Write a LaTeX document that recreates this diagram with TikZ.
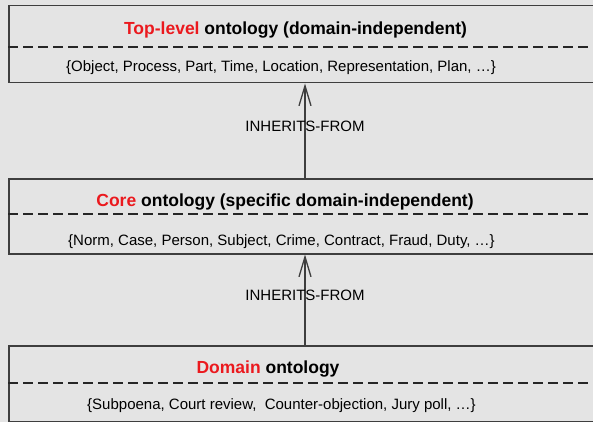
\documentclass[tikz,border=0pt]{standalone}
\usepackage{fontspec}
\setmainfont{Liberation Sans}
\usetikzlibrary{arrows.meta}
\definecolor{bg}{RGB}{228,228,228}
\definecolor{hl}{RGB}{235,25,30}
\definecolor{frame}{RGB}{62,62,62}
\begin{document}
\begin{tikzpicture}[x=1pt,y=-1pt,
  layer/.style={draw=frame,line width=1.5pt,fill=bg,rectangle,inner sep=0pt,
    anchor=north west,minimum width=605pt},
  title/.style={font=\fontsize{17.5}{20}\selectfont\bfseries,inner sep=0pt},
  members/.style={font=\fontsize{15}{18}\selectfont,inner sep=0pt},
  divider/.style={draw=black!85,line width=1.3pt,dash pattern=on 10pt off 5pt},
  inherits/.style={draw=frame,line width=1.3pt,
    -{Straight Barb[length=20pt,width=12pt,line width=1.3pt]}},
  edgelabel/.style={font=\fontsize{15}{18}\selectfont,inner sep=0pt}]
\clip (0,0) rectangle (593,422);
\fill[bg] (0,0) rectangle (593,422);

% the three ontology layers
\node[layer,minimum height=77pt] (top)  at (8,5)   {};
\node[layer,minimum height=75pt] (core) at (8,178) {};
\node[layer,minimum height=76pt] (dom)  at (8,345) {};

% dashed separators between name and members
\draw[divider] (top.west  |- 0,47)  -- (top.east  |- 0,47);
\draw[divider] (core.west |- 0,214) -- (core.east |- 0,214);
\draw[divider] (dom.west  |- 0,383) -- (dom.east  |- 0,383);

% layer names
\node[title] (toptitle)  at (295.5,30) {{\color{hl}Top-level} ontology (domain-independent)};
\node[title] (coretitle) at (285,202)  {{\color{hl}Core} ontology (specific domain-independent)};
\node[title] (domtitle)  at (268,369)  {{\color{hl}Domain} ontology};

% layer members
\node[members] (topset)  at (281,68)  {\{Object, Process, Part, Time, Location, Representation, Plan, …\}};
\node[members] (coreset) at (281.5,242) {\{Norm, Case, Person, Subject, Crime, Contract, Fraud, Duty, …\}};
\node[members] (domset)  at (281.5,406) {\{Subpoena, Court review,\ \ Counter-objection, Jury poll, …\}};

% inheritance links
\coordinate (axis) at (305,0);
\draw[inherits] (core.north -| axis) -- (top.south -| axis);
\draw[inherits] (dom.north -| axis) -- (core.south -| axis);
\node[edgelabel] (inh1) at (305,126) {INHERITS-FROM};
\node[edgelabel] (inh2) at (305,295) {INHERITS-FROM};
\end{tikzpicture}
\end{document}
